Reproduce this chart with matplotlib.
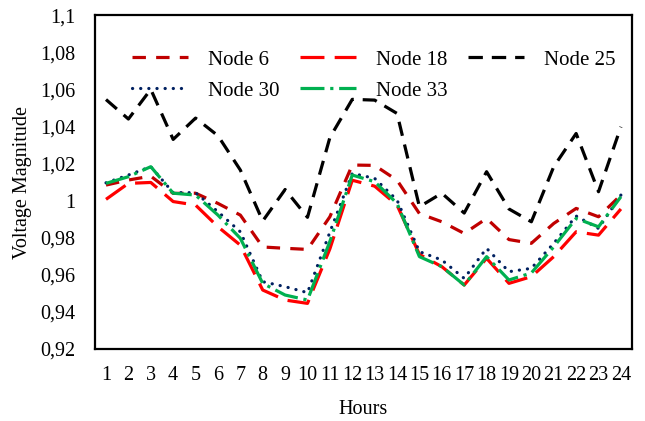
import numpy as np
import matplotlib
matplotlib.use('Agg')
import matplotlib.pyplot as plt
from matplotlib.ticker import FuncFormatter

plt.rcParams['font.family'] = ['Liberation Serif', 'DejaVu Serif']

# hourly voltage magnitudes
hours = list(range(1, 25))
node6 = [1.0084, 1.0111, 1.0132, 1.0039, 1.0040, 0.9985, 0.9922, 0.9750,
         0.9743, 0.9737, 0.9913, 1.0192, 1.0190, 1.0110, 0.9930, 0.9886,
         0.9823, 0.9904, 0.9790, 0.9770, 0.9877, 0.9958, 0.9913, 1.0030]
node18 = [1.0007, 1.0093, 1.0098, 0.9995, 0.9976, 0.9859, 0.9760, 0.9518,
          0.9464, 0.9446, 0.9740, 1.0110, 1.0078, 0.9976, 0.9710, 0.9644,
          0.9545, 0.9689, 0.9554, 0.9590, 0.9698, 0.9832, 0.9814, 0.9955]
node25 = [1.0545, 1.0440, 1.0600, 1.0330, 1.0445, 1.0350, 1.0165, 0.9890,
          1.0060, 0.9910, 1.0340, 1.0546, 1.0542, 1.0470, 0.9967, 1.0040,
          0.9933, 1.0156, 0.9955, 0.9886, 1.0183, 1.0362, 1.0048, 1.0398]
node30 = [1.0096, 1.0138, 1.0183, 1.0043, 1.0043, 0.9940, 0.9832, 0.9563,
          0.9536, 0.9504, 0.9830, 1.0147, 1.0120, 1.0003, 0.9725, 0.9680,
          0.9581, 0.9743, 0.9617, 0.9635, 0.9770, 0.9917, 0.9850, 1.0030]
node33 = [1.0093, 1.0129, 1.0183, 1.0040, 1.0030, 0.9922, 0.9797, 0.9554,
          0.9491, 0.9464, 0.9780, 1.0138, 1.0102, 0.9985, 0.9698, 0.9644,
          0.9545, 0.9698, 0.9572, 0.9610, 0.9751, 0.9904, 0.9859, 1.0021]

yticks = [0.92, 0.94, 0.96, 0.98, 1.0, 1.02, 1.04, 1.06, 1.08, 1.1]

fig = plt.figure(figsize=(6.45, 4.21), dpi=100)
ax = fig.add_axes([0.147, 0.171, 0.833, 0.793])

lw = 2.3
l6, = ax.plot(hours, node6, color='#C00000', lw=lw, dashes=(4.2, 3.2), label='Node 6')
l18, = ax.plot(hours, node18, color='#FF0000', lw=lw, dashes=(7.5, 3.2), label='Node 18')
l25, = ax.plot(hours, node25, color='black', lw=lw, dashes=(4.5, 2.8), label='Node 25')
l30, = ax.plot(hours, node30, color='#002060', lw=lw, dashes=(0.05, 2.5),
               dash_capstyle='round', label='Node 30')
l33, = ax.plot(hours, node33, color='#00B050', lw=lw, dashes=(7.5, 1.8, 1.0, 1.8),
               label='Node 33')

ax.set_xlim(0.5, 24.5)
ax.set_ylim(0.92, 1.1)
ax.set_xticks(hours)
ax.set_yticks(yticks)

def comma_fmt(v, pos):
    s = ('%.2f' % v).rstrip('0').rstrip('.')
    return s.replace('.', ',')

ax.yaxis.set_major_formatter(FuncFormatter(comma_fmt))
ax.tick_params(axis='both', length=0, labelsize=14.5)
ax.tick_params(axis='x', pad=12)
ax.tick_params(axis='y', pad=14)

for sp in ax.spines.values():
    sp.set_linewidth(1.6)

ax.set_xlabel('Hours', fontsize=14.5, labelpad=11)
ax.set_ylabel('Voltage Magnitude', fontsize=14.5, labelpad=6)

# legend laid out row by row like the original
handles = [l6, l30, l18, l33, l25]
ax.legend(handles=handles, labels=[h.get_label() for h in handles],
          ncol=3, loc='upper left', bbox_to_anchor=(132 / 645, 1 - 50 / 421),
          bbox_transform=fig.transFigure, frameon=False, borderpad=0,
          borderaxespad=0, fontsize=15, handlelength=2.7, columnspacing=0.96,
          handletextpad=0.96, labelspacing=0.55)

fig.savefig('out.png', dpi=100)
